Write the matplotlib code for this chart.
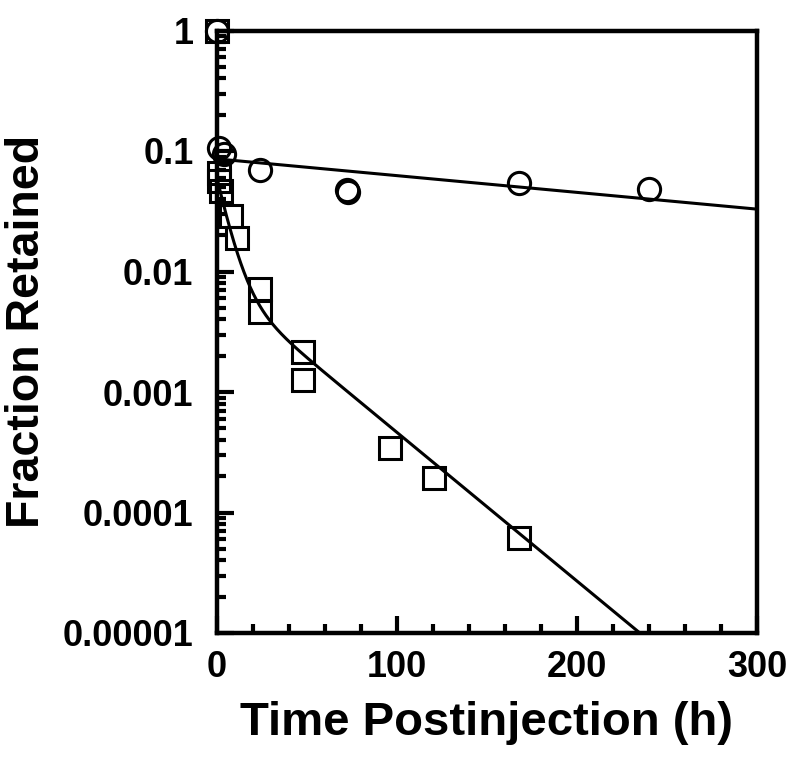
import numpy as np
import matplotlib
matplotlib.use("Agg")
import matplotlib.pyplot as plt
from matplotlib.ticker import FixedLocator, LogLocator, NullFormatter

# ---- data ----
circle_t = [0, 1, 4, 24, 72, 73, 168, 240]
circle_f = [1.0, 0.105, 0.095, 0.070, 0.0475, 0.0455, 0.0545, 0.0485]

square_t = [0, 1, 1, 2, 8, 11, 24, 24, 48, 48, 96, 120.5, 168]
square_f = [1.0, 0.066, 0.056, 0.047, 0.0290, 0.0190, 0.0071, 0.0046,
            0.00215, 0.00126, 0.00034, 0.000195, 6.1e-5]

# fitted curves
circle_fit_A, circle_fit_k = 0.086, 0.0032            # mono-exponential
square_fit_A, square_fit_k1 = 0.0513, 0.159           # bi-exponential
square_fit_B, square_fit_k2 = 0.0079, 0.0284

x_ticks = [0, 100, 200, 300]
x_minor = [20, 40, 60, 80, 120, 140, 160, 180, 220, 240, 260, 280]
y_ticks = [1e-5, 1e-4, 1e-3, 1e-2, 1e-1, 1]
y_tick_labels = ["0.00001", "0.0001", "0.001", "0.01", "0.1", "1"]

plt.rcParams['font.family'] = ['Liberation Sans', 'DejaVu Sans']
plt.rcParams['font.weight'] = 'bold'

fig = plt.figure(figsize=(8.0, 7.64), dpi=100)
ax = fig.add_axes([217/800, 1 - 633/764, 540/800, (633 - 30.5)/764])

t = np.linspace(0, 300, 1201)
ax.plot(t, circle_fit_A * np.exp(-circle_fit_k * t), color='black', lw=2.2, zorder=2)
ax.plot(t, square_fit_A * np.exp(-square_fit_k1 * t) + square_fit_B * np.exp(-square_fit_k2 * t),
        color='black', lw=2.2, zorder=2)

ax.plot(square_t, square_f, linestyle='none', marker='s', markersize=16,
        markerfacecolor='none', markeredgecolor='black', markeredgewidth=2.2,
        clip_on=False, zorder=4)
ax.plot(circle_t, circle_f, linestyle='none', marker='o', markersize=16,
        markerfacecolor='none', markeredgecolor='black', markeredgewidth=2.2,
        clip_on=False, zorder=4)

ax.set_yscale('log')
ax.set_xlim(0, 300)
ax.set_ylim(1e-5, 1)

ax.xaxis.set_major_locator(FixedLocator(x_ticks))
ax.xaxis.set_minor_locator(FixedLocator(x_minor))
ax.set_xticklabels([str(v) for v in x_ticks])
ax.yaxis.set_major_locator(FixedLocator(y_ticks))
ax.set_yticklabels(y_tick_labels)
ax.yaxis.set_minor_locator(LogLocator(base=10, subs=np.arange(2, 10)))
ax.yaxis.set_minor_formatter(NullFormatter())

for s in ax.spines.values():
    s.set_linewidth(3.2)

ax.tick_params(axis='both', which='major', direction='in', length=12, width=3,
               labelsize=26, top=False, right=False)
ax.tick_params(axis='y', which='major', pad=17)
ax.tick_params(axis='x', which='major', pad=12)
ax.tick_params(axis='both', which='minor', direction='in', length=6.5, width=3,
               top=False, right=False)
for lab in ax.get_xticklabels() + ax.get_yticklabels():
    lab.set_fontweight('bold')

ax.set_xlabel("Time Postinjection (h)", fontsize=34, fontweight='bold', labelpad=12)
ax.set_ylabel("Fraction Retained", fontsize=33.5, fontweight='bold', labelpad=10)

fig.savefig("out.png", dpi=100)
